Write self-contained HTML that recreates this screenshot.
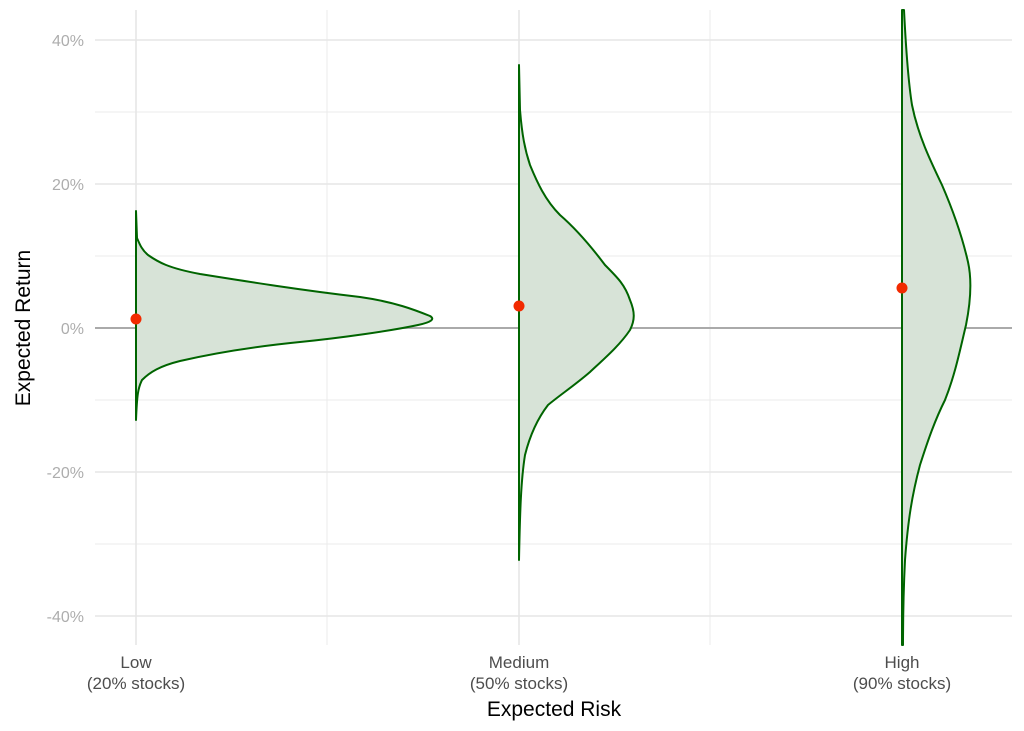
<!DOCTYPE html>
<html><head><meta charset="utf-8"><style>
html,body{margin:0;padding:0;background:#fff;}
svg{display:block;font-family:"Liberation Sans",sans-serif;}
</style></head><body>
<svg width="1024" height="731" viewBox="0 0 1024 731" xmlns="http://www.w3.org/2000/svg">
<rect width="1024" height="731" fill="#fff"/>
<g stroke="#ebebeb" stroke-width="1">
<line x1="95" x2="1012" y1="112" y2="112"/><line x1="95" x2="1012" y1="256" y2="256"/>
<line x1="95" x2="1012" y1="400" y2="400"/><line x1="95" x2="1012" y1="544" y2="544"/>
<line x1="327" x2="327" y1="10" y2="645"/><line x1="710" x2="710" y1="10" y2="645"/>
</g>
<g stroke="#e6e6e6" stroke-width="1.6">
<line x1="95" x2="1012" y1="40" y2="40"/><line x1="95" x2="1012" y1="184" y2="184"/>
<line x1="95" x2="1012" y1="472" y2="472"/><line x1="95" x2="1012" y1="616" y2="616"/>
<line x1="136" x2="136" y1="10" y2="645"/><line x1="519" x2="519" y1="10" y2="645"/><line x1="902" x2="902" y1="10" y2="645"/>
</g>
<line x1="95" x2="1012" y1="328" y2="328" stroke="#aaa" stroke-width="2"/>
<g fill="#d7e3d7" stroke="#006400" stroke-width="2" stroke-linejoin="round">
<path d="M136,211 L137,238 C140,245 142,250 148,255 C158,262 168,268 200,274 C250,282 300,290 360,297 C395,302 415,310 430,316 C435,319 432,322 418,325 C390,331 340,338 300,342 C250,347 210,354 180,361 C160,366 150,372 142,380 C138,388 137,395 136,420 Z"/>
<path d="M519,65 L520,110 C522,135 525,150 530,165 C537,182 545,200 560,215 C575,228 590,245 605,265 C618,278 625,285 630,300 C635,312 635,320 630,330 C620,345 605,358 590,372 C575,385 560,395 548,405 C538,418 530,435 525,455 C521,480 520,510 519,560 Z"/>
<path d="M902,10 L904,10 C906,50 908,80 912,105 C918,135 930,160 942,185 C955,215 963,240 968,262 C972,280 971,300 966,325 C960,350 955,375 945,400 C935,420 928,440 920,465 C912,495 908,520 905,560 C903,600 903,630 903,645 L902,645 Z"/>
</g>
<g fill="#f22a00"><circle cx="136" cy="319" r="5.5"/><circle cx="519" cy="306" r="5.5"/><circle cx="902" cy="288" r="5.5"/></g>
<g fill="#adadad" font-size="16" text-anchor="end">
<text x="84" y="46">40%</text><text x="84" y="190">20%</text><text x="84" y="334">0%</text>
<text x="84" y="478">-20%</text><text x="84" y="622">-40%</text>
</g>
<g fill="#4d4d4d" font-size="17" text-anchor="middle">
<text x="136" y="668">Low</text><text x="136" y="689">(20% stocks)</text>
<text x="519" y="668">Medium</text><text x="519" y="689">(50% stocks)</text>
<text x="902" y="668">High</text><text x="902" y="689">(90% stocks)</text>
</g>
<text x="554" y="716" font-size="21" text-anchor="middle" fill="#000">Expected Risk</text>
<text transform="translate(30,328) rotate(-90)" font-size="21" text-anchor="middle" fill="#000">Expected Return</text>
</svg>
</body></html>
